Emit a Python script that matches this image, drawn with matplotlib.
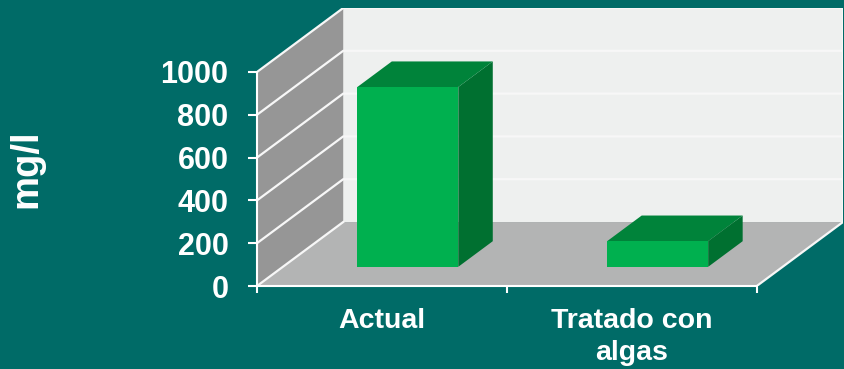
import matplotlib
matplotlib.use("Agg")
import matplotlib.pyplot as plt
from matplotlib.patches import Polygon

plt.rcParams['font.family'] = ['Liberation Sans', 'DejaVu Sans']

# data
categories = ["Actual", "Tratado con\nalgas"]
values = [840, 120]
yticks = [0, 200, 400, 600, 800, 1000]

# colours
teal = "#006b67"
back_wall = "#eef0ef"
side_wall = "#969696"
floor_c = "#b3b4b4"
bar_front = "#00b04f"
bar_top = "#00833a"
bar_side = "#007030"

# oblique depth (in category / value units for full depth)
DX = 0.345
DY = 299
ymax = 1000


def P(x, y, d):
    return (x + d * DX, y + d * DY)


fig = plt.figure(figsize=(8.45, 3.69), dpi=100, facecolor=teal)
ax = fig.add_axes([257 / 845, 83 / 369, 586 / 845, 278 / 369])
ax.set_facecolor("none")
ax.set_xlim(0, len(categories) + DX)
ax.set_ylim(0, ymax + DY)
n = len(categories)

# walls
ax.add_patch(Polygon([P(0, 0, 1), P(n, 0, 1), P(n, ymax, 1), P(0, ymax, 1)],
                     closed=True, fc=back_wall, ec="none", zorder=1))
ax.add_patch(Polygon([P(0, 0, 0), P(0, 0, 1), P(0, ymax, 1), P(0, ymax, 0)],
                     closed=True, fc=side_wall, ec="none", zorder=1))
ax.add_patch(Polygon([P(0, 0, 0), P(n, 0, 0), P(n, 0, 1), P(0, 0, 1)],
                     closed=True, fc=floor_c, ec="none", zorder=1))

# gridlines on side and back walls
for t in yticks[1:]:
    xs, ys = zip(P(0, t, 0), P(0, t, 1), P(n, t, 1))
    ax.plot(xs, ys, color="#f7f7f7", lw=1.6, zorder=2, solid_capstyle="butt")
# edges
for a, b in [((0, 0, 0), (0, 0, 1)), ((n, 0, 0), (n, 0, 1)),
             ((n, 0, 1), (n, ymax, 1))]:
    xs, ys = zip(P(*a), P(*b))
    ax.plot(xs, ys, color="#f7f7f7", lw=1.6, zorder=2)

# bars
w = 0.404
d0, d1 = 0.3, 0.7
for i, v in enumerate(values):
    xl = i + 0.5 - w / 2
    xr = i + 0.5 + w / 2
    front = [P(xl, 0, d0), P(xr, 0, d0), P(xr, v, d0), P(xl, v, d0)]
    top = [P(xl, v, d0), P(xr, v, d0), P(xr, v, d1), P(xl, v, d1)]
    side = [P(xr, 0, d0), P(xr, 0, d1), P(xr, v, d1), P(xr, v, d0)]
    ax.add_patch(Polygon(side, closed=True, fc=bar_side, ec="none", zorder=3))
    ax.add_patch(Polygon(top, closed=True, fc=bar_top, ec="none", zorder=3))
    ax.add_patch(Polygon(front, closed=True, fc=bar_front, ec="none", zorder=3))

# axes styling
for s in ["top", "right"]:
    ax.spines[s].set_visible(False)
ax.spines["left"].set_bounds(0, ymax)
ax.spines["bottom"].set_bounds(0, n)
for s in ["left", "bottom"]:
    ax.spines[s].set_color("white")
    ax.spines[s].set_linewidth(1.5)
    ax.spines[s].set_zorder(4)

ax.set_yticks(yticks)
ax.set_yticklabels([str(t) for t in yticks])
ax.tick_params(axis="y", colors="white", length=6.5, width=1.5, pad=14,
               labelsize=22)
ax.set_xticks(range(n + 1))
ax.set_xticklabels([])
ax.tick_params(axis="x", which="major", colors="white", length=5, width=1.5)
ax.set_xticks([i + 0.5 for i in range(n)], minor=True)
ax.set_xticklabels(categories, minor=True, linespacing=1.3)
ax.tick_params(axis="x", which="minor", length=0, pad=16, labelsize=20.5,
               labelcolor="white")
for lbl in ax.get_yticklabels() + ax.get_xticklabels(minor=True):
    lbl.set_fontweight("bold")

fig.text(26 / 845, 1 - 169 / 369, "mg/l", rotation=90, color="white",
         fontsize=27.5, fontweight="bold", ha="center", va="center")

fig.savefig("out.png", dpi=100, facecolor=teal)
